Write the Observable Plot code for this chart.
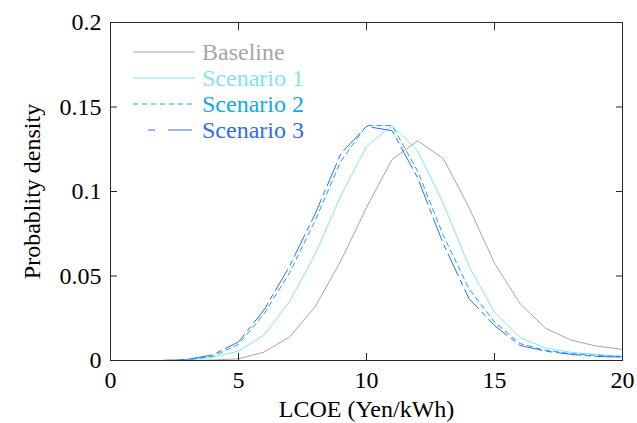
<!DOCTYPE html>
<html><head><meta charset="utf-8">
<script src="https://cdn.jsdelivr.net/npm/d3@7"></script>
<script src="https://cdn.jsdelivr.net/npm/@observablehq/plot@0.6"></script>
<style>
body{margin:0;background:#fff;}
#wrap{position:relative;width:637px;height:423px;font-family:"Liberation Serif","Times New Roman",serif;}
#legend{position:absolute;left:133px;top:39.5px;}
.row{display:flex;align-items:center;height:25.9px;font-size:24px;line-height:1;white-space:nowrap;}
.row svg{margin-right:7px;display:block;}
</style></head><body><div id="wrap"><div id="legend"></div></div>
<script>
// ---- data ----
const xValues = [0,1,2,3,4,5,6,7,8,9,10,11,12,13,14,15,16,17,18,19,20];
const seriesNames = ["Baseline","Scenario 1","Scenario 2","Scenario 3"];
const baseline  = [0,0,0,0,0.0003,0.001,0.005,0.014,0.032,0.059,0.0905,0.119,0.130,0.1195,0.0907,0.0576,0.0336,0.019,0.0120,0.0085,0.0066];
const scenario1 = [0,0,0,0.0002,0.002,0.0055,0.015,0.035,0.063,0.0976,0.1266,0.139,0.124,0.0928,0.056,0.0286,0.0136,0.0073,0.0048,0.0035,0.0026];
const scenario2 = [0,0,0,0.0005,0.0025,0.0095,0.0277,0.052,0.083,0.118,0.139,0.139,0.112,0.074,0.0425,0.0227,0.010,0.006,0.004,0.003,0.0022];
const scenario3 = [0,0,0,0.0006,0.0034,0.011,0.030,0.056,0.087,0.1225,0.1385,0.136,0.108,0.069,0.0367,0.0207,0.0089,0.0055,0.0036,0.0024,0.002];
const xTicks = [0,5,10,15,20];
const yTicks = [0,0.05,0.1,0.15,0.2];
const yTickLabels = ["0","0.05","0.1","0.15","0.2"];
const xLabel = "LCOE (Yen/kWh)";
const yLabel = "Probablity density";

// ---- styles ----
const seriesColors = ["#a6a6a6","#84e4ee","#11a8e8","#2f6cf2"];
const seriesDash = [null, null, "5,4", "24,5,5,5"];
const legendDash = [null, null, "5,4", "0 15 7 13 24 100"];
const seriesValues = [baseline, scenario1, scenario2, scenario3];

const rows = [];
seriesNames.forEach((name, i) => {
  xValues.forEach((x, j) => rows.push({series: name, x, y: seriesValues[i][j]}));
});

const font = '"Liberation Serif","Times New Roman",serif';
const axisColor = "#262626";

const lineMarks = seriesNames.map((name, i) =>
  Plot.line(rows.filter(d => d.series === name), {
    x: "x", y: "y", stroke: seriesColors[i], strokeWidth: 1,
    strokeDasharray: seriesDash[i] ?? undefined
  })
);

const chart = Plot.plot({
  width: 637, height: 423,
  marginLeft: 110, marginRight: 15, marginTop: 22, marginBottom: 63,
  style: {fontFamily: font, fontSize: "24px", color: "#000", background: "#fff", overflow: "visible"},
  x: {domain: [0, 20]},
  y: {domain: [0, 0.2]},
  marks: [
    ...lineMarks,
    Plot.frame({stroke: axisColor, strokeWidth: 1}),
    Plot.axisX({anchor: "bottom", ticks: xTicks, tickSize: -7, text: null, label: null, stroke: axisColor}),
    Plot.axisX({anchor: "top", ticks: xTicks, tickSize: -7, text: null, label: null, stroke: axisColor}),
    Plot.axisY({anchor: "left", ticks: yTicks, tickSize: -7, text: null, label: null, stroke: axisColor}),
    Plot.axisY({anchor: "right", ticks: yTicks, tickSize: -7, text: null, label: null, stroke: axisColor}),
    Plot.axisX({anchor: "bottom", ticks: xTicks, tickSize: 0, tickPadding: 10, fontSize: 24, fill: "#000",
      tickFormat: d => String(d), label: xLabel, labelAnchor: "center", labelArrow: "none", labelOffset: 56}),
    Plot.axisY({anchor: "left", ticks: yTicks, tickSize: 0, tickPadding: 9, fontSize: 24, fill: "#000",
      tickFormat: d => yTickLabels[yTicks.indexOf(d)], label: yLabel, labelAnchor: "center", labelArrow: "none", labelOffset: 88})
  ]
});
document.getElementById("wrap").prepend(chart);

// legend
const legend = document.getElementById("legend");
seriesNames.forEach((name, i) => {
  const row = document.createElement("div");
  row.className = "row";
  const dash = legendDash[i] ? `stroke-dasharray="${legendDash[i]}"` : "";
  row.innerHTML = `<svg width="62" height="10"><line x1="0" x2="62" y1="5" y2="5" stroke="${seriesColors[i]}" stroke-width="1" ${dash}/></svg><span style="color:${seriesColors[i]}">${name}</span>`;
  legend.appendChild(row);
});
</script>
</body></html>
